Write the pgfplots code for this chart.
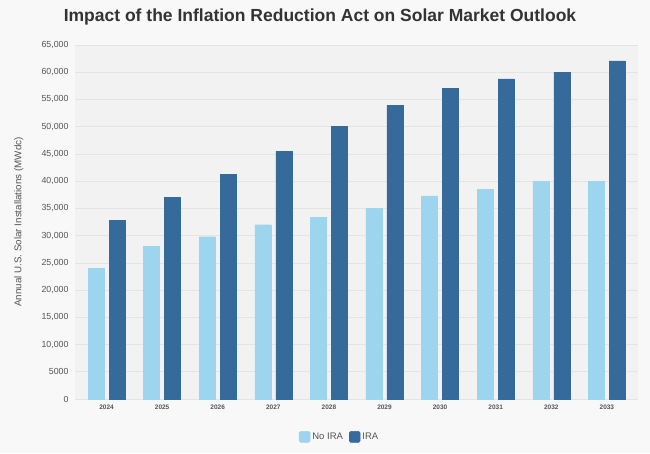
\documentclass[border=0pt]{standalone}
\usepackage{pgfplots}
\pgfplotsset{compat=1.18}
\usepackage{fontspec}
\setmainfont{Liberation Sans}
\definecolor{noira}{HTML}{9DD4EE}
\definecolor{ira}{HTML}{366A9A}
\definecolor{bgc}{HTML}{F8F8F8}
\definecolor{plotbg}{HTML}{F2F2F2}
\definecolor{gridc}{HTML}{E4E4E4}
\definecolor{txt}{HTML}{555555}
\begin{document}
\begin{tikzpicture}
\useasboundingbox[fill=bgc] (-75pt,-54pt) rectangle (575pt,399pt);
\begin{axis}[
  at={(0pt,0pt)}, anchor=south west,
  scale only axis, width=563pt, height=354pt,
  ymin=0, ymax=65000, xmin=-0.567, xmax=9.56,
  scaled y ticks=false,
  axis background/.style={fill=plotbg},
  axis line style={draw=none},
  major tick length=0pt,
  ytick={0,5000,...,65000},
  yticklabels={0,5000,{10,000},{15,000},{20,000},{25,000},{30,000},{35,000},{40,000},{45,000},{50,000},{55,000},{60,000},{65,000}},
  yticklabel style={font=\fontsize{8.8}{10}\selectfont, text=txt, xshift=-3pt},
  xtick={0,...,9},
  xticklabels={2024,2025,2026,2027,2028,2029,2030,2031,2032,2033},
  xticklabel style={font=\fontsize{6.5}{8}\selectfont\bfseries, text=txt, yshift=-2pt},
  ymajorgrids, grid style={gridc, line width=0.6pt},
  ylabel={Annual U.S. Solar Installations (MWdc)},
  ylabel style={font=\fontsize{9.8}{12}\selectfont, text=txt, at={(-48pt,0.5*354pt)}, anchor=south},
  legend columns=2,
  legend style={at={(0.47,-0.107)}, anchor=center, draw=none, fill=none,
    font=\fontsize{9.5}{11}\selectfont, text=txt,
    /tikz/every even column/.append style={column sep=4pt}},
  legend image code/.code={\draw[#1, rounded corners=1.5pt] (0pt,-5.5pt) rectangle (11pt,5.5pt);},
]
\addplot[ybar, bar width=16pt, bar shift=-10.5pt, fill=noira, draw=noira] coordinates {
(0,24000) (1,28000) (2,29800) (3,32000) (4,33400) (5,35000) (6,37300) (7,38500) (8,40000) (9,40000)};
\addlegendentry{No IRA}
\addplot[ybar, bar width=16pt, bar shift=10.5pt, fill=ira, draw=ira] coordinates {
(0,32800) (1,37000) (2,41200) (3,45500) (4,50000) (5,53900) (6,57000) (7,58800) (8,60000) (9,62100)};
\addlegendentry{IRA}
\end{axis}
\node[font=\fontsize{17.5}{20}\selectfont\bfseries, text=black!80] at (245pt,382pt) {Impact of the Inflation Reduction Act on Solar Market Outlook};
\end{tikzpicture}
\end{document}
